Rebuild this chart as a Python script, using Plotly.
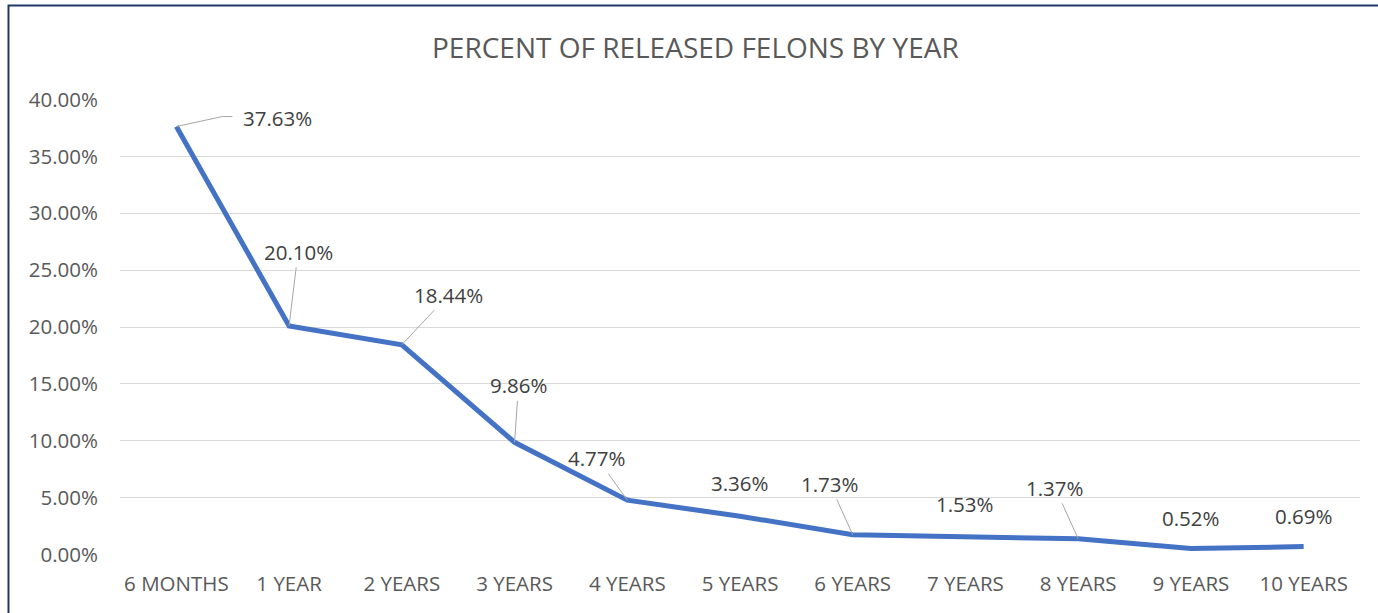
import plotly.graph_objects as go

categories = ["6 MONTHS", "1 YEAR", "2 YEARS", "3 YEARS", "4 YEARS", "5 YEARS",
              "6 YEARS", "7 YEARS", "8 YEARS", "9 YEARS", "10 YEARS"]
values = [0.3763, 0.2010, 0.1844, 0.0986, 0.0477, 0.0336,
          0.0173, 0.0153, 0.0137, 0.0052, 0.0069]
value_labels = ["37.63%", "20.10%", "18.44%", "9.86%", "4.77%", "3.36%",
                "1.73%", "1.53%", "1.37%", "0.52%", "0.69%"]
y_ticks = [0, 0.05, 0.10, 0.15, 0.20, 0.25, 0.30, 0.35, 0.40]

# label offsets in pixels (dx, dy, leader style)
label_offsets = [(101, -9, "bent"), (9, -74, "arrow"), (47, -50, "arrow"), (4, -57, "arrow"),
                 (-30, -42, "arrow"), (0, -33, None), (-23, -51, "arrow"), (0, -33, None),
                 (-23, -51, "arrow"), (0, -31, None), (0, -31, None)]

FONT = "Open Sans"
LEADER = "#A6A6A6"

fig = go.Figure()
fig.add_trace(go.Scatter(
    x=categories, y=values, mode="lines",
    line=dict(color="#4472C4", width=5),
    hoverinfo="skip", showlegend=False,
))

annotations = []
shapes = [dict(type="rect", xref="paper", yref="paper",
               x0=(8.5 - 120) / 1240, x1=1.2, y0=-0.3, y1=(555 - 5.5) / 456,
               line=dict(color="#203864", width=2), layer="below")]

for i, (cat, v, lab, (dx, dy, style)) in enumerate(zip(categories, values, value_labels, label_offsets)):
    font = dict(family=FONT, size=20.5, color="#404040")
    if style == "arrow":
        annotations.append(dict(
            x=cat, y=v, xref="x", yref="y", text=lab, showarrow=True,
            ax=dx, ay=dy, axref="pixel", ayref="pixel",
            arrowhead=0, arrowwidth=1, arrowcolor=LEADER, standoff=0, font=font,
        ))
    else:
        annotations.append(dict(
            x=cat, y=v, xref="x", yref="y", text=lab, showarrow=False,
            xshift=dx, yshift=-dy, font=font,
        ))
        if style == "bent":
            for (a0, b0, a1, b1) in [(0, 0, 46, 10), (46, 10, 56, 10)]:
                shapes.append(dict(
                    type="line", xref="x", yref="y",
                    xsizemode="pixel", ysizemode="pixel",
                    xanchor=i, yanchor=v,
                    x0=a0, y0=b0, x1=a1, y1=b1,
                    line=dict(color=LEADER, width=1),
                ))

annotations.append(dict(
    x=(695 - 120) / 1240, y=(555 - 47) / 456, xref="paper", yref="paper",
    text="PERCENT OF RELEASED FELONS BY YEAR", showarrow=False,
    font=dict(family=FONT, size=28, color="#595959"),
    xanchor="center", yanchor="middle",
))

fig.update_layout(
    width=1378, height=613,
    margin=dict(l=120, r=18, t=99, b=58),
    paper_bgcolor="white", plot_bgcolor="white",
    annotations=annotations,
    shapes=shapes,
    xaxis=dict(
        type="category", range=[-0.5, 10.5], showgrid=False, showline=False,
        zeroline=False, ticks="",
        tickfont=dict(family=FONT, size=20.5, color="#595959"),
        ticklabelstandoff=14,
    ),
    yaxis=dict(
        range=[-0.0005, 0.4005], tickvals=y_ticks, tickformat=".2%",
        showgrid=True, gridcolor="#D9D9D9", gridwidth=1,
        zeroline=False, showline=False, ticks="",
        tickfont=dict(family=FONT, size=20.5, color="#595959"),
        ticklabelstandoff=21,
    ),
)

fig.write_html("out.html", config={"displayModeBar": False},
               post_script="document.body.style.margin='0';")
